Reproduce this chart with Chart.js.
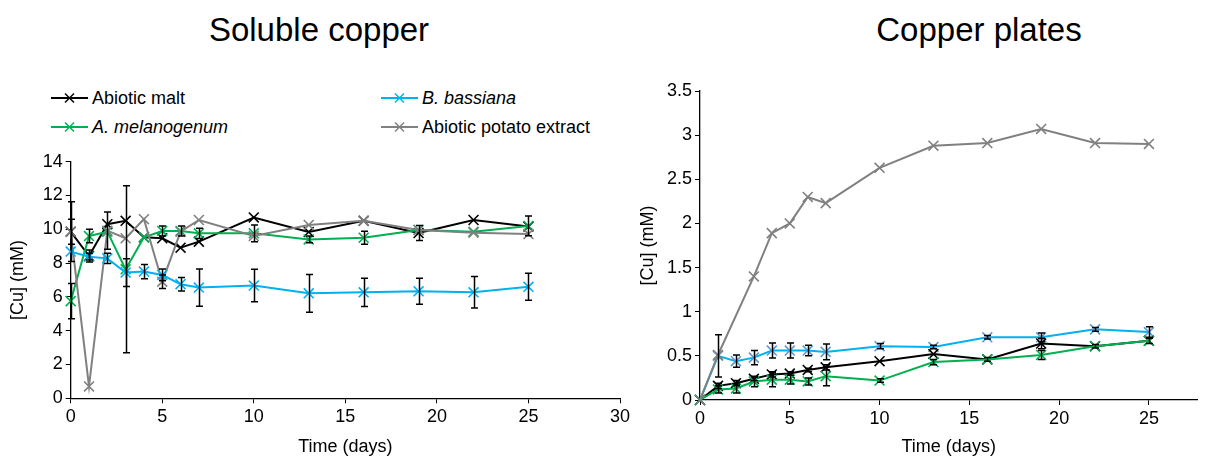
<!DOCTYPE html>
<html><head><meta charset="utf-8">
<script src="https://cdn.jsdelivr.net/npm/chart.js@4.4.1/dist/chart.umd.min.js"></script>
<style>
body{margin:0;background:#fff;width:1206px;height:460px;overflow:hidden;position:relative;font-family:"Liberation Sans",Arial,sans-serif;color:#000;}
.title{position:absolute;top:11px;font-size:33px;line-height:38px;white-space:nowrap;transform:translateX(-50%);}
#c1{position:absolute;left:0;top:0;}
#c2{position:absolute;left:630px;top:0;}
.leg{position:absolute;font-size:18px;line-height:22px;display:flex;align-items:center;white-space:nowrap;}
.leg svg{margin-right:4px;display:block;}
</style></head><body>
<div class="title" style="left:319px">Soluble copper</div>
<div class="title" style="left:979px">Copper plates</div>

<div class="leg" style="left:51px;top:87px"><svg width="37" height="14"><line x1="0" y1="7" x2="37" y2="7" stroke="#000" stroke-width="2"/><line x1="14" y1="2.5" x2="23" y2="11.5" stroke="#000" stroke-width="1.5"/><line x1="23" y1="2.5" x2="14" y2="11.5" stroke="#000" stroke-width="1.5"/></svg><span>Abiotic malt</span></div>
<div class="leg" style="left:381px;top:87px"><svg width="37" height="14"><line x1="0" y1="7" x2="37" y2="7" stroke="#00B0F0" stroke-width="2"/><line x1="14" y1="2.5" x2="23" y2="11.5" stroke="#00B0F0" stroke-width="1.5"/><line x1="23" y1="2.5" x2="14" y2="11.5" stroke="#00B0F0" stroke-width="1.5"/></svg><span style="font-style:italic">B. bassiana</span></div>
<div class="leg" style="left:51px;top:116px"><svg width="37" height="14"><line x1="0" y1="7" x2="37" y2="7" stroke="#00B050" stroke-width="2"/><line x1="14" y1="2.5" x2="23" y2="11.5" stroke="#00B050" stroke-width="1.5"/><line x1="23" y1="2.5" x2="14" y2="11.5" stroke="#00B050" stroke-width="1.5"/></svg><span style="font-style:italic">A. melanogenum</span></div>
<div class="leg" style="left:381px;top:116px"><svg width="37" height="14"><line x1="0" y1="7" x2="37" y2="7" stroke="#808080" stroke-width="2"/><line x1="14" y1="2.5" x2="23" y2="11.5" stroke="#808080" stroke-width="1.5"/><line x1="23" y1="2.5" x2="14" y2="11.5" stroke="#808080" stroke-width="1.5"/></svg><span>Abiotic potato extract</span></div>

<canvas id="c1" width="645" height="460"></canvas>
<canvas id="c2" width="576" height="460"></canvas>
<script>
// ---- data ----
const days = [0, 1, 2, 3, 4, 5, 6, 7, 10, 13, 16, 19, 22, 25];

// Soluble copper (mM)
const solMalt    = [9.86, 8.42, 10.3, 10.5, 9.53, 9.47, 8.91, 9.27, 10.7, 9.84, 10.5, 9.78, 10.55, 10.16];
const solBass    = [8.68, 8.38, 8.28, 7.44, 7.5, 7.3, 6.75, 6.55, 6.67, 6.21, 6.27, 6.33, 6.27, 6.6];
const solMel     = [5.75, 9.6, 9.86, 7.63, 9.53, 9.9, 9.9, 9.76, 9.76, 9.4, 9.5, 9.96, 9.86, 10.2];
const solPotato  = [9.86, 0.7, 9.92, 9.47, 10.6, 6.9, 9.86, 10.55, 9.6, 10.26, 10.5, 9.96, 9.8, 9.72];
const solMaltErr   = [1.77, 0.35, 0, 0, 0, 0, 0, 0, 0, 0, 0, 0.45, 0, 0];
const solBassErr   = [0, 0.2, 0.3, 0.82, 0.42, 0.35, 0.4, 1.1, 0.96, 1.12, 0.84, 0.77, 0.93, 0.8];
const solMelErr    = [1.04, 0.4, 0, 4.94, 0, 0.3, 0.3, 0.3, 0.5, 0.2, 0.38, 0, 0, 0.58];
const solPotatoErr = [0.74, 0, 1.1, 0, 0, 0.4, 0, 0, 0, 0, 0, 0, 0, 0];

// Copper plates (mM)
const plMalt    = [0, 0.16, 0.19, 0.24, 0.29, 0.3, 0.34, 0.37, 0.44, 0.52, 0.46, 0.64, 0.61, 0.67];
const plBass    = [0, 0.5, 0.44, 0.48, 0.56, 0.56, 0.56, 0.545, 0.61, 0.6, 0.71, 0.71, 0.8, 0.77];
const plMel     = [0, 0.12, 0.13, 0.21, 0.23, 0.23, 0.21, 0.27, 0.22, 0.43, 0.46, 0.51, 0.61, 0.67];
const plPotato  = [0, 0.51, null, 1.4, 1.89, 2.0, 2.3, 2.23, 2.63, 2.88, 2.91, 3.07, 2.91, 2.9];
const plMaltErr   = [0, 0.03, 0.03, 0.02, 0.03, 0.02, 0.02, 0.03, 0, 0, 0, 0.06, 0, 0];
const plBassErr   = [0, 0.24, 0.07, 0.08, 0.085, 0.085, 0.06, 0.09, 0.03, 0.02, 0.02, 0.05, 0.02, 0.06];
const plMelErr    = [0, 0.04, 0.05, 0.06, 0.08, 0.05, 0.04, 0.11, 0.02, 0.03, 0.02, 0.05, 0.02, 0.03];

const solYTicks = [0, 2, 4, 6, 8, 10, 12, 14];
const plYTicks = [0, 0.5, 1, 1.5, 2, 2.5, 3, 3.5];
const xTickStep = 5;

// ---- rendering ----
const FAM = '"Liberation Sans", Arial, sans-serif';
const pts = arr => days.map((d, i) => ({x: d, y: arr[i]}));

function ds(label, arr, err, color, mcolor) {
  return {
    label, data: pts(arr), errors: err,
    borderColor: color, backgroundColor: color, borderWidth: 2,
    pointStyle: 'crossRot', pointRadius: 7, pointHoverRadius: 7,
    pointBorderColor: mcolor || color, pointBorderWidth: 1.6,
    tension: 0, spanGaps: true, clip: false
  };
}

const errorBars = {
  id: 'errorBars',
  afterDatasetsDraw(chart) {
    const {ctx} = chart;
    const x = chart.scales.x, y = chart.scales.y;
    ctx.save();
    ctx.strokeStyle = '#000';
    ctx.lineWidth = 1.5;
    chart.data.datasets.forEach(d => {
      if (!d.errors) return;
      d.data.forEach((p, i) => {
        const e = d.errors[i];
        if (!e || p.y == null) return;
        const px = Math.round(x.getPixelForValue(p.x)) + 0.5;
        const y1 = y.getPixelForValue(p.y + e);
        const y2 = y.getPixelForValue(Math.max(p.y - e, y.min));
        ctx.beginPath();
        ctx.moveTo(px, y1); ctx.lineTo(px, y2);
        ctx.moveTo(px - 3.5, y1); ctx.lineTo(px + 3.5, y1);
        ctx.moveTo(px - 3.5, y2); ctx.lineTo(px + 3.5, y2);
        ctx.stroke();
      });
    });
    ctx.restore();
  }
};

function make(id, datasets, opt) {
  const tickFont = {family: FAM, size: 18};
  return new Chart(document.getElementById(id), {
    type: 'line',
    data: {datasets},
    plugins: [errorBars],
    options: {
      responsive: false, animation: false,
      layout: {padding: opt.pad},
      plugins: {legend: {display: false}, title: {display: false}, tooltip: {enabled: false}},
      scales: {
        x: {
          type: 'linear', min: 0, max: opt.xmax,
          grid: {display: true, drawOnChartArea: false, drawTicks: true, tickLength: 5, color: '#000', lineWidth: 1},
          border: {display: true, color: '#000', width: 1.3},
          ticks: {stepSize: xTickStep, includeBounds: false, color: '#000', font: tickFont, padding: 3, maxRotation: 0, autoSkip: false},
          title: {display: true, text: 'Time (days)', color: '#000', font: tickFont, padding: 0},
          afterFit: s => { s.height = opt.xh; }
        },
        y: {
          type: 'linear', min: opt.yTicks[0], max: opt.yTicks[opt.yTicks.length - 1],
          afterBuildTicks: s => { s.ticks = opt.yTicks.map(v => ({value: v})); },
          grid: {display: true, drawOnChartArea: false, drawTicks: true, tickLength: 5, color: '#000', lineWidth: 1},
          border: {display: true, color: '#000', width: 1.3},
          ticks: {color: '#000', font: tickFont, padding: 3, autoSkip: false, callback: v => String(Math.round(v * 10) / 10)},
          title: {display: true, text: '[Cu] (mM)', color: '#000', font: tickFont, padding: 0},
          afterFit: s => { s.width = opt.yw; }
        }
      }
    }
  });
}

make('c1', [
  ds('B. bassiana', solBass, solBassErr, '#00B0F0'),
  ds('Abiotic potato extract', solPotato, solPotatoErr, '#808080'),
  ds('A. melanogenum', solMel, solMelErr, '#00B050'),
  ds('Abiotic malt', solMalt, solMaltErr, '#000000')
], {pad: {left: 7, right: 25, top: 161.7, bottom: 2}, yw: 63.7, xh: 59.7, xmax: 30, yTicks: solYTicks});

make('c2', [
  ds('Abiotic potato extract', plPotato, null, '#808080'),
  ds('A. melanogenum', plMel, plMelErr, '#00B050'),
  ds('Abiotic malt', plMalt, plMaltErr, '#000000'),
  ds('B. bassiana', plBass, plBassErr, '#00B0F0', '#5B9BD5')
], {pad: {left: 7, right: 3, top: 91, bottom: 2}, yw: 63, xh: 58, xmax: 27.7, yTicks: plYTicks});
</script>
</body></html>
